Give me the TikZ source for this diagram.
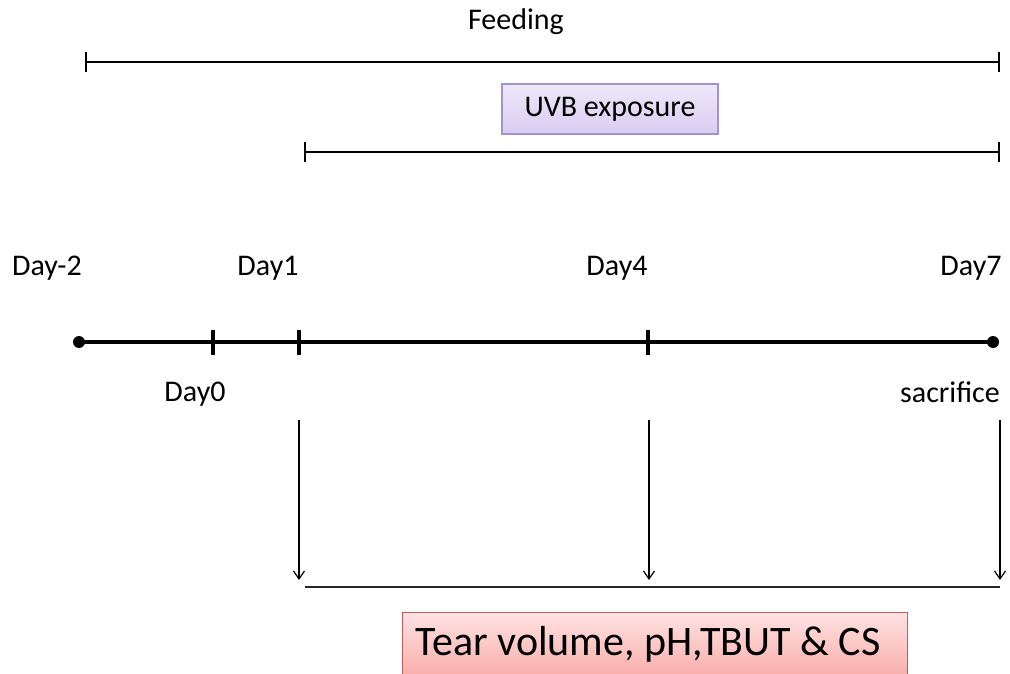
\documentclass[tikz,border=0pt]{standalone}
\usepackage{fontspec}
\setmainfont{Carlito}
\usetikzlibrary{arrows.meta}
\definecolor{uvbline}{HTML}{A392CE}
\definecolor{uvbtop}{HTML}{EEE8FA}
\definecolor{uvbbot}{HTML}{D9CDF1}
\definecolor{testline}{HTML}{C85A58}
\definecolor{testtop}{HTML}{FFE2E1}
\definecolor{testbot}{HTML}{F7A19D}

\begin{document}
\begin{tikzpicture}[x=1pt,y=-1pt,
        period/.style={{Bar[width=20pt]}-{Bar[width=20pt]},line width=2pt},
        timeline/.style={line width=3.8pt},
        tick/.style={line width=3.2pt},
        check/.style={-{Straight Barb[length=8pt,width=11pt]},line width=1.2pt},
        daylabel/.style={font=\fontsize{30}{34}\selectfont},
        uvbbox/.style={draw=uvbline,line width=1.2pt,top color=uvbtop,bottom color=uvbbot,
            minimum width=216pt,minimum height=50pt,daylabel},
        testbox/.style={draw=testline,line width=1.2pt,top color=testtop,bottom color=testbot,
            minimum width=505pt,minimum height=80pt,anchor=north,inner sep=0pt}]
    \clip (0,0) rectangle (1010,674);

    % feeding and UVB periods
    \node[daylabel] (feeding) at (516,22) {Feeding};
    \coordinate (fa) at (85,62);
    \coordinate (fb) at (1000,62);
    \draw[period] (fa) -- (fb);

    \node[uvbbox] (uvb) at (610,109) {UVB exposure};
    \coordinate (ua) at (304,152);
    \coordinate (ub) at (1000,152);
    \draw[period] (ua) -- (ub);

    % time line
    \coordinate (dm2) at (79,342);
    \coordinate (d0) at (213,342);
    \coordinate (d1) at (299,342);
    \coordinate (d4) at (648,342);
    \coordinate (d7) at (993,342);
    \draw[timeline] (dm2) -- (d7);
    \fill (dm2) circle (6);
    \fill (d7) circle (6);
    \foreach \t in {d0,d1,d4}
        \draw[tick] (\t) ++(0,-12.5) -- ++(0,25);

    \node[daylabel] (lm2) at (47,268) {Day-2};
    \node[daylabel] (l1) at (268,268) {Day1};
    \node[daylabel] (l4) at (617,268) {Day4};
    \node[daylabel] (l7) at (971,268) {Day7};
    \node[daylabel] (l0) at (195,394) {Day0};
    \node[daylabel] (ls) at (950,392) {sacrifice};

    % measurements
    \coordinate (a1) at (299,420);
    \coordinate (b1) at (299,580);
    \coordinate (a4) at (649,420);
    \coordinate (b4) at (649,580);
    \coordinate (a7) at (1000,420);
    \coordinate (b7) at (1000,580);
    \draw[check] (a1) -- (b1);
    \draw[check] (a4) -- (b4);
    \draw[check] (a7) -- (b7);
    \coordinate (ma) at (305,587);
    \coordinate (mb) at (1000,587);
    \draw[line width=1.8pt,black!85] (ma) -- (mb);

    \node[testbox] (tests) at (655,612) {};
    \node[font=\fontsize{42}{47}\selectfont] (testtext) at (648,644) {Tear volume, pH,TBUT \& CS};
\end{tikzpicture}
\end{document}
